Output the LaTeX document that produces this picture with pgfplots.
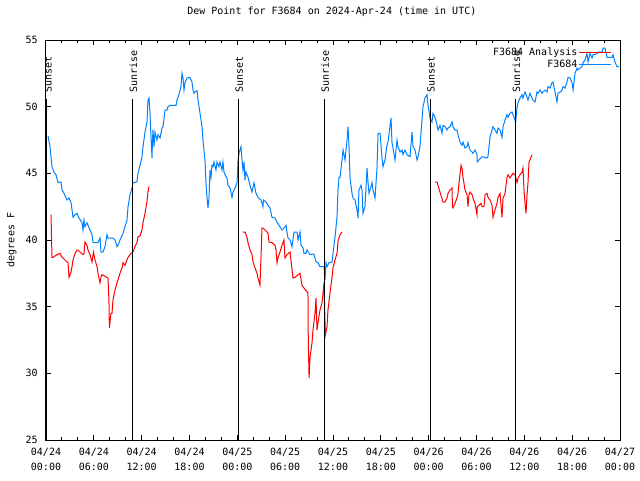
\documentclass[border=0pt]{standalone}
\usepackage{pgfplots}
\pgfplotsset{compat=1.18}
\usepackage{fontspec}
\setmainfont{DejaVu Sans Mono}
\definecolor{obsblue}{RGB}{0,128,255}
\definecolor{anared}{RGB}{255,0,0}
\begin{document}
\begin{tikzpicture}
\begin{axis}[
  at={(0,0)}, anchor=south west,
  scale only axis, width=430.5pt, height=300pt,
  xmin=0, xmax=72, ymin=25, ymax=55,
  axis line style={line width=0.75pt},
  every tick/.style={black, line width=0.75pt},
  tick align=inside,
  major tick length=3.75pt, minor tick length=2.25pt,
  xtick={0,6,...,72}, minor x tick num=2,
  xticklabels={{04/24\\00:00},{04/24\\06:00},{04/24\\12:00},{04/24\\18:00},{04/25\\00:00},{04/25\\06:00},{04/25\\12:00},{04/25\\18:00},{04/26\\00:00},{04/26\\06:00},{04/26\\12:00},{04/26\\18:00},{04/27\\00:00}},
  xticklabel style={align=center, font=\fontsize{7.5}{11.25}\selectfont, inner sep=0pt, yshift=-5.5pt},
  ytick={25,30,...,55},
  yticklabel style={font=\fontsize{7.5}{9}\selectfont, inner sep=0pt, xshift=-6pt},
  /pgf/number format/assume math mode=true,
  ylabel={degrees F},
  ylabel style={at={(axis description cs:-0.060,0.5)}, anchor=center, font=\fontsize{7.5}{9}\selectfont},
  title={Dew Point for F3684 on 2024-Apr-24 (time in UTC)},
  title style={at={(axis description cs:0.498,1)}, anchor=center, yshift=15pt, font=\fontsize{7.5}{9}\selectfont},
  legend plot pos=right,
  legend cell align=right,
  legend image code/.code={\draw[#1] (3.75pt,0pt) -- (27.75pt,0pt);},
  legend style={at={(rel axis cs:0.986,0.985)}, anchor=north east, draw=none, fill=none, inner sep=0pt, row sep=0pt, font=\fontsize{7.5}{9}\selectfont, nodes={inner sep=1pt}},
]
% Analysis (red)
\addplot[anared, line width=0.75pt] coordinates {
(0.63,41.9)(0.75,38.7)(0.88,38.7)(1.38,38.9)(1.76,39.0)(2.01,38.7)(2.13,38.65)(2.63,38.35)(2.76,38.3)(2.89,37.2)(3.14,37.6)(3.26,38.0)(3.39,38.5)(3.64,39.0)(3.89,39.25)(4.01,39.25)(4.26,39.1)(4.64,38.9)(4.77,39.0)(4.89,39.85)(5.14,39.6)(5.27,39.25)(5.52,38.9)(5.77,38.35)(5.90,38.9)(5.95,39.1)(6.15,38.5)(6.40,38.0)(6.52,37.5)(6.77,36.8)(6.90,37.2)(7.02,37.4)(7.65,37.2)(7.78,37.15)(7.90,35.3)(7.95,33.4)(8.15,34.5)(8.28,34.5)(8.40,35.5)(8.66,36.25)(8.91,36.8)(9.03,37.0)(9.28,37.5)(9.53,37.9)(9.66,38.3)(9.91,38.1)(10.16,38.5)(10.29,38.7)(10.66,39.0)(10.91,39.1)(11.16,39.5)(11.41,39.8)(11.54,40.25)(11.79,40.3)(12.04,40.75)(12.17,41.3)(12.42,42.0)(12.67,42.9)(12.79,43.6)(12.92,44.0)
};
\addlegendentry{F3684 Analysis}
\addplot[obsblue, line width=0.75pt] coordinates {
(0.25,47.8)(0.50,47.0)(0.75,45.5)(1.00,45.1)(1.25,44.9)(1.51,44.3)(1.88,44.35)(2.01,43.75)(2.26,43.5)(2.63,43.0)(2.89,43.15)(3.14,42.8)(3.39,41.7)(3.64,41.9)(3.89,42.0)(4.14,41.65)(4.52,41.3)(4.64,40.75)(4.77,41.5)(4.89,41.0)(5.14,41.3)(5.27,41.1)(5.52,40.75)(5.77,40.4)(5.90,39.8)(6.52,39.8)(6.77,40.15)(6.90,39.1)(7.15,39.1)(7.40,39.5)(7.65,40.4)(7.78,40.15)(8.40,40.15)(8.66,40.0)(8.91,39.5)(9.03,39.6)(9.28,40.0)(9.66,40.5)(9.91,41.0)(10.16,41.5)(10.29,42.5)(10.54,43.4)(10.79,43.9)(10.91,44.3)(11.41,44.35)(11.54,45.0)(11.79,45.6)(12.04,46.2)(12.17,47.0)(12.42,48.1)(12.67,48.85)(12.79,50.5)(12.92,50.65)(13.05,49.5)(13.17,47.7)(13.30,46.15)(13.35,47.35)(13.42,48.25)(13.55,47.0)(13.67,48.1)(13.92,47.5)(14.05,47.9)(14.30,47.65)(14.55,48.4)(14.68,48.5)(14.93,49.75)(15.18,49.75)(15.30,50.0)(15.55,50.1)(16.31,50.1)(16.43,50.5)(16.68,50.9)(16.93,51.5)(17.06,52.5)(17.19,52.15)(17.31,51.25)(17.44,51.8)(17.69,52.15)(18.06,52.2)(18.31,51.85)(18.44,51.25)(18.56,51.0)(18.69,51.1)(18.94,51.2)(19.07,50.5)(19.32,49.5)(19.57,48.5)(19.69,47.5)(19.94,46.0)(20.07,44.3)(20.20,43.2)(20.32,42.4)(20.45,43.2)(20.57,45.25)(20.70,44.7)(20.82,45.6)(20.95,45.5)(21.07,45.85)(21.32,45.25)(21.45,45.85)(21.70,45.5)(21.83,45.85)(22.08,45.25)(22.20,45.85)(22.33,45.1)(22.45,44.9)(22.70,44.65)(22.83,44.1)(23.08,43.9)(23.33,43.2)(23.46,43.6)(23.71,43.9)(23.96,44.3)(24.08,45.85)(24.21,46.5)(24.46,47.0)(24.59,46.0)(24.71,45.25)(24.84,45.85)(24.96,44.5)(25.09,45.1)(25.34,44.7)(25.59,44.1)(25.84,43.6)(26.09,44.3)(26.34,43.5)(26.59,43.2)(26.97,43.0)(27.22,42.5)(27.27,43.0)(27.60,42.85)(27.85,42.6)(28.10,42.4)(28.35,41.7)(28.73,41.65)(28.98,41.35)(29.23,41.1)(29.60,40.75)(29.85,40.9)(30.11,41.1)(30.23,40.6)(30.36,40.15)(30.61,40.0)(30.86,39.5)(31.11,40.6)(31.49,40.6)(31.61,40.0)(31.86,40.6)(31.99,39.6)(32.24,39.4)(32.36,39.0)(32.61,39.0)(32.74,39.25)(33.12,38.9)(33.49,38.95)(33.62,38.9)(33.87,38.35)(34.12,38.3)(34.37,38.0)(34.87,38.0)(35.00,37.0)(35.12,38.3)(35.25,38.0)(35.50,38.3)(35.88,38.35)(36.00,39.0)(36.25,40.2)(36.50,41.7)(36.63,43.75)(36.75,44.7)(36.88,44.7)(37.13,46.0)(37.26,46.75)(37.51,46.0)(37.76,47.5)(37.88,48.5)(38.01,47.0)(38.13,44.7)(38.38,43.5)(38.51,43.15)(38.76,43.0)(39.01,42.25)(39.14,41.65)(39.26,43.75)(39.51,44.1)(39.64,43.75)(39.76,42.0)(40.01,42.5)(40.27,45.4)(40.39,44.35)(40.52,43.5)(40.77,44.0)(40.89,44.3)(41.02,43.75)(41.27,43.15)(41.52,45.4)(41.65,48.0)(41.90,48.0)(42.15,46.15)(42.27,45.5)(42.52,46.0)(42.77,47.1)(42.90,47.35)(43.28,49.15)(43.40,47.3)(43.53,46.9)(43.78,46.0)(44.03,47.5)(44.15,47.0)(44.41,46.6)(44.66,46.75)(44.78,46.4)(45.03,46.75)(45.28,46.4)(45.66,46.25)(45.91,48.1)(46.04,47.0)(46.29,46.75)(46.54,46.0)(46.66,46.25)(46.91,47.0)(47.16,49.0)(47.29,50.0)(47.54,50.65)(47.79,50.9)(47.92,50.1)(48.17,49.15)(48.42,48.85)(48.54,49.5)(48.80,49.2)(49.05,48.6)(49.17,48.25)(49.42,48.6)(49.67,48.0)(49.80,48.6)(50.05,48.5)(50.30,48.25)(50.43,48.4)(50.68,48.5)(50.93,48.85)(51.05,48.5)(51.30,48.25)(51.56,48.25)(51.68,47.9)(51.93,47.35)(52.18,47.1)(52.31,47.35)(52.56,46.9)(52.81,47.0)(52.93,47.3)(53.19,46.75)(53.44,46.6)(53.56,46.5)(53.81,46.75)(54.06,46.4)(54.10,45.85)(54.31,46.0)(54.69,46.25)(55.32,46.15)(55.44,46.25)(55.69,47.7)(55.95,48.25)(56.07,48.5)(56.32,48.25)(56.57,48.0)(56.70,48.4)(56.95,48.25)(57.20,47.7)(57.33,48.5)(57.58,49.0)(57.83,49.4)(57.95,49.2)(58.20,49.5)(58.45,49.6)(58.58,49.4)(58.83,49.0)(58.90,48.8)(59.08,49.9)(59.21,50.3)(59.46,50.65)(59.71,50.9)(59.83,50.65)(60.09,51.1)(60.34,50.7)(60.46,50.5)(60.71,51.0)(60.96,50.65)(61.09,50.5)(61.34,50.35)(61.59,51.1)(61.72,51.0)(61.97,51.25)(62.22,51.0)(62.34,51.1)(62.59,51.25)(62.85,51.1)(62.97,51.5)(63.22,51.4)(63.47,51.8)(63.60,51.85)(63.85,51.1)(64.10,50.35)(64.22,51.0)(64.48,51.1)(64.73,51.25)(64.85,51.5)(65.10,51.4)(65.35,51.85)(65.48,52.2)(65.73,52.15)(65.98,51.8)(66.11,51.25)(66.36,52.5)(66.61,52.9)(66.73,52.75)(66.99,52.9)(67.24,53.0)(67.36,53.3)(67.61,53.5)(67.86,54.0)(67.99,53.35)(68.24,54.0)(68.49,53.65)(68.62,53.9)(68.87,53.9)(69.12,54.0)(69.24,54.1)(69.75,54.1)(69.87,54.4)(70.12,54.4)(70.37,53.7)(71.00,53.7)(71.12,53.9)(71.37,53.35)(71.62,53.0)(71.87,53.0)
};
\addlegendentry{F3684}
% Analysis segments 2 and 3
\addplot[anared, line width=0.75pt, forget plot] coordinates {
(24.71,40.6)(24.96,40.6)(25.21,40.2)(25.34,39.8)(25.59,39.25)(25.84,38.9)(25.97,38.35)(26.22,37.9)(26.47,37.5)(26.59,37.15)(26.84,36.6)(26.97,38.7)(27.09,40.9)(27.22,40.9)(27.72,40.6)(27.85,40.5)(27.97,39.85)(28.35,39.8)(28.73,39.6)(28.85,39.25)(28.98,38.3)(29.10,38.65)(29.35,39.1)(29.60,39.6)(29.85,40.0)(29.98,38.65)(30.23,38.9)(30.61,39.1)(30.98,37.15)(31.23,37.2)(31.86,37.5)(32.11,36.6)(32.36,36.4)(32.74,36.1)(32.86,36.1)(32.90,32.5)(33.00,29.65)(33.12,31.2)(33.37,32.3)(33.49,33.25)(33.74,34.5)(33.87,35.65)(33.99,33.25)(34.12,33.8)(34.37,34.75)(34.62,35.3)(34.75,36.0)(34.87,36.8)(35.00,33.8)(35.05,32.9)(35.25,33.5)(35.37,34.75)(35.62,36.0)(35.88,37.2)(36.00,37.9)(36.25,38.5)(36.50,39.0)(36.63,39.9)(36.88,40.4)(37.13,40.6)
};
\addplot[anared, line width=0.75pt, forget plot] coordinates {
(48.80,44.35)(49.05,44.35)(49.17,44.1)(49.42,43.6)(49.80,42.85)(50.05,42.85)(50.30,43.15)(50.43,43.5)(50.68,43.75)(50.93,43.9)(50.98,42.5)(51.05,42.4)(51.30,42.75)(51.56,43.15)(51.68,43.5)(51.81,44.3)(52.06,45.6)(52.18,45.4)(52.31,44.7)(52.56,43.75)(52.81,43.4)(52.93,42.5)(53.06,43.4)(53.19,43.6)(53.44,43.4)(53.56,43.15)(53.81,42.75)(54.06,41.9)(54.10,42.5)(54.31,42.6)(54.56,42.75)(54.69,42.5)(54.94,42.5)(55.07,43.4)(55.32,43.5)(55.44,43.2)(55.69,43.0)(55.95,42.6)(56.07,41.7)(56.32,42.25)(56.57,42.75)(56.70,43.2)(56.95,43.5)(57.20,41.7)(57.33,43.15)(57.58,43.5)(57.83,44.7)(57.95,44.9)(58.20,44.65)(58.58,45.0)(58.83,44.9)(59.08,44.3)(59.21,44.65)(59.46,44.9)(59.71,45.1)(59.83,45.4)(59.96,43.75)(60.09,42.75)(60.21,42.0)(60.34,43.4)(60.46,44.3)(60.52,45.0)(60.59,45.85)(60.84,46.2)(60.96,46.4)
};
% Sunset / sunrise markers
\addplot[black, line width=0.75pt, forget plot] coordinates {(0.1,25)(0.1,50.55)};
\addplot[black, line width=0.75pt, forget plot] coordinates {(10.82,25)(10.82,50.55)};
\addplot[black, line width=0.75pt, forget plot] coordinates {(24.13,25)(24.13,50.55)};
\addplot[black, line width=0.75pt, forget plot] coordinates {(34.9,25)(34.9,50.55)};
\addplot[black, line width=0.75pt, forget plot] coordinates {(48.17,25)(48.17,50.55)};
\addplot[black, line width=0.75pt, forget plot] coordinates {(58.87,25)(58.87,50.55)};
\begin{scope}[every node/.style={rotate=90, anchor=west, inner sep=0pt, font=\fontsize{7.5}{9}\selectfont}]
\node at (axis cs:0.25,51.05) {Sunset};
\node at (axis cs:10.95,51.05) {Sunrise};
\node at (axis cs:24.25,51.05) {Sunset};
\node at (axis cs:35.0,51.05) {Sunrise};
\node at (axis cs:48.3,51.05) {Sunset};
\node at (axis cs:59.0,51.05) {Sunrise};
\end{scope}
\end{axis}
\pgfresetboundingbox
\path[use as bounding box] (-34.5pt,-30pt) rectangle (445.5pt,330pt);
\end{tikzpicture}
\end{document}
